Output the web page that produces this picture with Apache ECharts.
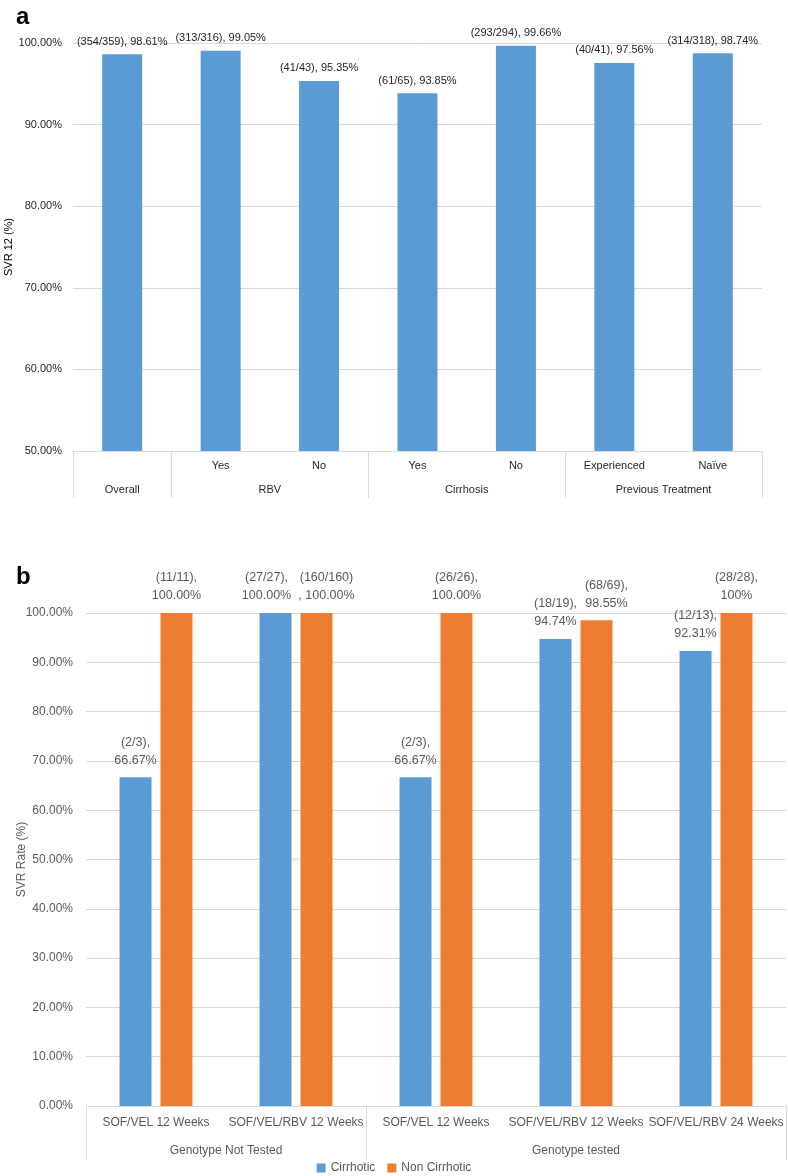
<!DOCTYPE html>
<html>
<head>
<meta charset="utf-8">
<script src="https://cdn.jsdelivr.net/npm/echarts@6/dist/echarts.min.js"></script>
<style>
html,body{margin:0;padding:0;background:#fff;}
#c{width:788px;height:1176px;}
</style>
</head>
<body>
<div id="c"></div>
<script>
// ---------- Panel a data ----------
var subCatsA = ['', 'Yes', 'No', 'Yes', 'No', 'Experienced', 'Naïve'];
var groupsA = ['Overall', 'RBV', 'Cirrhosis', 'Previous Treatment'];
var groupSpansA = [1, 2, 2, 2];
var svrA = [98.61, 99.05, 95.35, 93.85, 99.66, 97.56, 98.74];
var labelsA = ['(354/359), 98.61%', '(313/316), 99.05%', '(41/43), 95.35%', '(61/65), 93.85%',
               '(293/294), 99.66%', '(40/41), 97.56%', '(314/318), 98.74%'];
var ticksA = [50, 60, 70, 80, 90, 100];

// ---------- Panel b data ----------
var subCatsB = ['SOF/VEL 12 Weeks', 'SOF/VEL/RBV 12 Weeks', 'SOF/VEL 12 Weeks', 'SOF/VEL/RBV 12 Weeks', 'SOF/VEL/RBV 24 Weeks'];
var groupsB = ['Genotype Not Tested', 'Genotype tested'];
var groupSpansB = [2, 3];
var cirrhotic = [66.67, 100.00, 66.67, 94.74, 92.31];
var nonCirrhotic = [100.00, 100.00, 100.00, 98.55, 100.00];
var cirrLabels = ['(2/3),\n66.67%', '(27/27),\n100.00%', '(2/3),\n66.67%', '(18/19),\n94.74%', '(12/13),\n92.31%'];
var nonLabels = ['(11/11),\n100.00%', '(160/160)\n, 100.00%', '(26/26),\n100.00%', '(68/69),\n98.55%', '(28/28),\n100%'];
var ticksB = [0, 10, 20, 30, 40, 50, 60, 70, 80, 90, 100];

// build half-slot group axes
function buildGroupAxis(groups, spans) {
  var n = 0; spans.forEach(function (s) { n += s; });
  var data = []; for (var i = 0; i <= 2 * n; i++) data.push('');
  var bounds = [0]; var pos = 0;
  groups.forEach(function (g, k) {
    data[pos + spans[k]] = g;
    pos += 2 * spans[k];
    bounds.push(pos);
  });
  return { data: data, bounds: bounds };
}
var gA = buildGroupAxis(groupsA, groupSpansA);
var gB = buildGroupAxis(groupsB, groupSpansB);

var FONT = '"Liberation Sans", Arial, sans-serif';
var GRID_COLOR = '#d9d9d9';
var BLUE = '#5b9bd5', ORANGE = '#ed7d31';
var TXT_A = '#262626', TXT_B = '#595959';

var chart = echarts.init(document.getElementById('c'), null, { renderer: 'canvas' });
chart.setOption({
  animation: false,
  backgroundColor: '#fff',
  title: [
    { text: 'a', left: 11, top: 0, textStyle: { fontFamily: FONT, fontWeight: 'bold', fontSize: 24, color: '#000' } },
    { text: 'b', left: 11, top: 560, textStyle: { fontFamily: FONT, fontWeight: 'bold', fontSize: 24, color: '#000' } }
  ],
  legend: {
    data: ['Cirrhotic', 'Non Cirrhotic'],
    left: 'center', top: 1157,
    icon: 'rect', itemWidth: 9, itemHeight: 9, itemGap: 12,
    textStyle: { fontFamily: FONT, fontSize: 12, color: TXT_B }
  },
  grid: [
    { left: 73, right: 26, top: 43, bottom: 725, containLabel: false, outerBoundsMode: 'none' },
    { left: 86, right: 2, top: 613, bottom: 70, containLabel: false, outerBoundsMode: 'none' }
  ],
  xAxis: [
    {
      gridIndex: 0, type: 'category', data: subCatsA, position: 'bottom',
      axisLine: { lineStyle: { color: GRID_COLOR } },
      axisTick: { show: false },
      axisLabel: { interval: 0, margin: 9, fontFamily: FONT, fontSize: 11, color: TXT_A }
    },
    {
      gridIndex: 0, type: 'category', data: gA.data, position: 'bottom', offset: 0, boundaryGap: false,
      axisLine: { show: false },
      axisTick: { show: true, length: 47, lineStyle: { color: GRID_COLOR },
        interval: function (i) { return gA.bounds.indexOf(i) >= 0; } },
      axisLabel: { interval: 0, margin: 33, fontFamily: FONT, fontSize: 11, color: TXT_A }
    },
    {
      gridIndex: 1, type: 'category', data: subCatsB, position: 'bottom',
      axisLine: { lineStyle: { color: GRID_COLOR } },
      axisTick: { show: false },
      axisLabel: { interval: 0, margin: 11, fontFamily: FONT, fontSize: 12, color: TXT_B }
    },
    {
      gridIndex: 1, type: 'category', data: gB.data, position: 'bottom', offset: 0, boundaryGap: false,
      axisLine: { show: false },
      axisTick: { show: true, length: 54, lineStyle: { color: GRID_COLOR },
        interval: function (i) { return gB.bounds.indexOf(i) >= 0; } },
      axisLabel: { interval: 0, margin: 39, fontFamily: FONT, fontSize: 12, color: TXT_B }
    }
  ],
  yAxis: [
    {
      gridIndex: 0, type: 'value', min: ticksA[0], max: ticksA[ticksA.length - 1], interval: 10,
      name: 'SVR 12 (%)', nameLocation: 'middle', nameGap: 59, nameMoveOverlap: false,
      nameTextStyle: { fontFamily: FONT, fontSize: 11, color: '#000' },
      axisLine: { show: false }, axisTick: { show: false },
      splitLine: { lineStyle: { color: GRID_COLOR } },
      axisLabel: { margin: 11, fontFamily: FONT, fontSize: 11, color: TXT_A,
        formatter: function (v) { return v.toFixed(2) + '%'; } }
    },
    {
      gridIndex: 1, type: 'value', min: ticksB[0], max: ticksB[ticksB.length - 1], interval: 10,
      name: 'SVR Rate (%)', nameLocation: 'middle', nameGap: 58, nameMoveOverlap: false,
      nameTextStyle: { fontFamily: FONT, fontSize: 12, color: TXT_B },
      axisLine: { show: false }, axisTick: { show: false },
      splitLine: { lineStyle: { color: GRID_COLOR } },
      axisLabel: { margin: 13, fontFamily: FONT, fontSize: 12, color: TXT_B,
        formatter: function (v) { return v.toFixed(2) + '%'; } }
    }
  ],
  series: [
    {
      name: 'SVR 12', type: 'bar', xAxisIndex: 0, yAxisIndex: 0, barWidth: 40,
      itemStyle: { color: BLUE },
      data: svrA.map(function (v, i) {
        return { value: v, label: { formatter: labelsA[i] } };
      }),
      label: { show: true, position: 'top', distance: 7, fontFamily: FONT, fontSize: 11, color: TXT_A }
    },
    {
      name: 'Cirrhotic', type: 'bar', xAxisIndex: 2, yAxisIndex: 1, barWidth: 32, barGap: '28%',
      itemStyle: { color: BLUE },
      data: cirrhotic.map(function (v, i) {
        return { value: v, label: { formatter: cirrLabels[i], offset: i === 1 ? [-9, 0] : [0, 0] } };
      }),
      label: { show: true, position: 'top', distance: 8, lineHeight: 18, fontFamily: FONT, fontSize: 12.5, color: TXT_B }
    },
    {
      name: 'Non Cirrhotic', type: 'bar', xAxisIndex: 2, yAxisIndex: 1, barWidth: 32, barGap: '28%',
      itemStyle: { color: ORANGE },
      data: nonCirrhotic.map(function (v, i) {
        return { value: v, label: { formatter: nonLabels[i], offset: (i === 1 || i === 3) ? [10, 0] : [0, 0] } };
      }),
      label: { show: true, position: 'top', distance: 8, lineHeight: 18, fontFamily: FONT, fontSize: 12.5, color: TXT_B }
    }
  ]
});
</script>
</body>
</html>
